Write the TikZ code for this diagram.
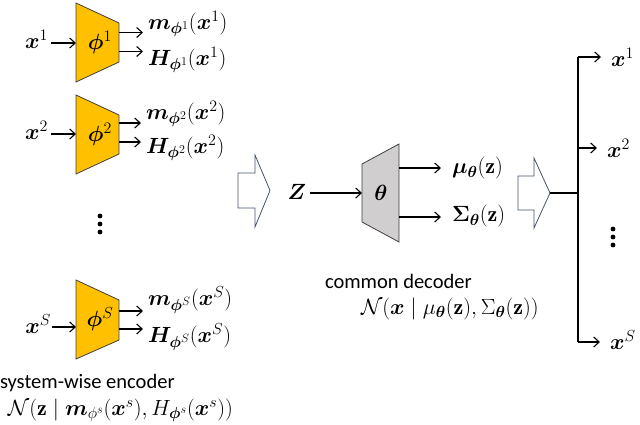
\RequirePackage{fix-cm}
\documentclass[tikz,border=0pt]{standalone}
\usepackage{amsmath,bm}
\usepackage{fontspec}
\newfontfamily\calib{Carlito}
\usetikzlibrary{arrows.meta}
\DeclareMathSizes{22}{22}{16}{12}
\definecolor{gold}{HTML}{FFC000}
\definecolor{decgray}{HTML}{D0CECE}
\definecolor{edgegray}{HTML}{3F3F3F}
\definecolor{bluegray}{HTML}{44546A}
\tikzset{
  every node/.style={font=\fontsize{22}{26}\selectfont, inner sep=0pt, outer sep=0pt},
  encbox/.style={draw=edgegray, fill=gold, line width=0.8pt, line join=miter},
  decbox/.style={draw=edgegray, fill=decgray, line width=0.8pt},
  bigarr/.style={draw=bluegray, fill=white, line width=0.8pt, line join=miter},
  conn/.style={draw=black, line width=1.1pt, -{Straight Barb[length=5.5pt,width=10pt,line width=1.1pt]}},
  plainline/.style={draw=black, line width=1.1pt},
  dotmark/.style={circle, fill=black, minimum size=4.8pt, inner sep=0pt},
  sans/.style={font=\calib\fontsize{20.5}{24}\selectfont}
}
\begin{document}
\begin{tikzpicture}[x=1pt,y=-1pt]
\useasboundingbox (0,0) rectangle (640,424);

% ---------- encoder 1 ----------
\draw[encbox] (76,3) -- (119,23) -- (119,62) -- (76,82) -- cycle;
\node (phi1) at (100,42.5) {$\bm{\phi}^1$};
\coordinate (e1in) at (76,43);
\coordinate (e1oa) at (119,32.5);
\coordinate (e1ob) at (119,51.5);
\node[anchor=base east] (x1) at (48,48) {$\bm{x}^1$};
\node[anchor=base west] (m1) at (148,29) {$\bm{m}_{\bm{\phi}^1}(\bm{x}^1)$};
\node[anchor=base west] (h1) at (148,65) {$\bm{H}_{\bm{\phi}^1}(\bm{x}^1)$};
\draw[conn] ([xshift=3pt]x1.east |- e1in) -- (e1in);
\draw[conn] (e1oa) -- ([xshift=-5pt]m1.west |- e1oa);
\draw[conn] (e1ob) -- ([xshift=-5pt]h1.west |- e1ob);

% ---------- encoder 2 ----------
\draw[encbox] (76,95) -- (119,115) -- (119,154) -- (76,174) -- cycle;
\node (phi2) at (100,134.5) {$\bm{\phi}^2$};
\coordinate (e2in) at (76,134);
\coordinate (e2oa) at (119,123);
\coordinate (e2ob) at (119,142);
\node[anchor=base east] (x2) at (48,139) {$\bm{x}^2$};
\node[anchor=base west] (m2) at (146,119) {$\bm{m}_{\bm{\phi}^2}(\bm{x}^2)$};
\node[anchor=base west] (h2) at (146,153) {$\bm{H}_{\bm{\phi}^2}(\bm{x}^2)$};
\draw[conn] ([xshift=3pt]x2.east |- e2in) -- (e2in);
\draw[conn] (e2oa) -- ([xshift=-5pt]m2.west |- e2oa);
\draw[conn] (e2ob) -- ([xshift=-5pt]h2.west |- e2ob);

% ---------- dots ----------
\node[dotmark] (d1) at (100,216) {};
\node[dotmark] (d2) at (100,224) {};
\node[dotmark] (d3) at (100,232) {};

% ---------- encoder S ----------
\draw[encbox] (76,280) -- (119,300) -- (119,340) -- (76,359) -- cycle;
\node (phiS) at (100,319.5) {$\bm{\phi}^S$};
\coordinate (eSin) at (76,327);
\coordinate (eSoa) at (119,311);
\coordinate (eSob) at (119,329);
\node[anchor=base east] (xS) at (51,333) {$\bm{x}^S$};
\node[anchor=base west] (mS) at (148,305) {$\bm{m}_{\bm{\phi}^S}(\bm{x}^S)$};
\node[anchor=base west] (hS) at (148,342) {$\bm{H}_{\bm{\phi}^S}(\bm{x}^S)$};
\draw[conn] ([xshift=1pt]xS.east |- eSin) -- (eSin);
\draw[conn] (eSoa) -- ([xshift=-5pt]mS.west |- eSoa);
\draw[conn] (eSob) -- ([xshift=-5pt]hS.west |- eSob);

% ---------- encoder caption ----------
\node[sans, anchor=base west] (enccap) at (0,388) {system-wise encoder};
\node[anchor=base west] (encdist) at (8,415) {$\mathcal{N}(\mathbf{z}\mid \bm{m}_{\phi^s}(\bm{x}^s), H_{\bm{\phi}^s}(\bm{x}^s))$};

% ---------- big arrow 1 ----------
\draw[bigarr] (238,173) -- (255,173) -- (255,155) -- (270,190.5) -- (255,227) -- (255,208) -- (238,208) -- cycle;

% ---------- decoder ----------
\node (Z) at (297,192) {$\bm{Z}$};
\draw[decbox] (362,164) -- (399,144) -- (399,242) -- (362,222) -- cycle;
\node (theta) at (381,193) {$\bm{\theta}$};
\coordinate (din) at (362,193);
\coordinate (doa) at (399,168);
\coordinate (dob) at (399,217);
\draw[conn] ([xshift=4pt]Z.east |- din) -- (din);
\node[anchor=west] (mu) at (452,168) {$\bm{\mu}_{\bm{\theta}}(\mathbf{z})$};
\node[anchor=west] (sig) at (452,216) {$\bm{\Sigma}_{\bm{\theta}}(\mathbf{z})$};
\draw[conn] (doa) -- ([xshift=-11pt]mu.west |- doa);
\draw[conn] (dob) -- ([xshift=-11pt]sig.west |- dob);

\node[sans, anchor=base west] (deccap) at (325,288) {common decoder};
\node[anchor=base west] (decdist) at (361,314) {$\mathcal{N}(\bm{x}\mid \mu_{\bm{\theta}}(\mathbf{z}), \Sigma_{\bm{\theta}}(\mathbf{z}))$};

% ---------- big arrow 2 and branches ----------
\draw[bigarr] (518,176) -- (534,176) -- (534,158) -- (550,193) -- (534,228) -- (534,210) -- (518,210) -- cycle;
\coordinate (tip2) at (550,193);
\coordinate (jn) at (578,193);
\coordinate (jtop) at (578,57);
\coordinate (jmid) at (578,148);
\coordinate (jbot) at (578,342);
\draw[plainline] (tip2) -- (jn);
\draw[plainline] (jtop) -- (jbot);
\node[anchor=west] (o1) at (611,57) {$\bm{x}^1$};
\node[anchor=west] (o2) at (607,148) {$\bm{x}^2$};
\node[anchor=west] (oS) at (610,340) {$\bm{x}^S$};
\draw[conn] (jtop) -- ([xshift=-10pt]o1.west |- jtop);
\draw[conn] (jmid) -- ([xshift=-10pt]o2.west |- jmid);
\draw[conn] (jbot) -- ([xshift=-10pt]oS.west |- jbot);
\node[dotmark] (r1) at (613,229) {};
\node[dotmark] (r2) at (613,237) {};
\node[dotmark] (r3) at (613,245) {};
\end{tikzpicture}
\end{document}
